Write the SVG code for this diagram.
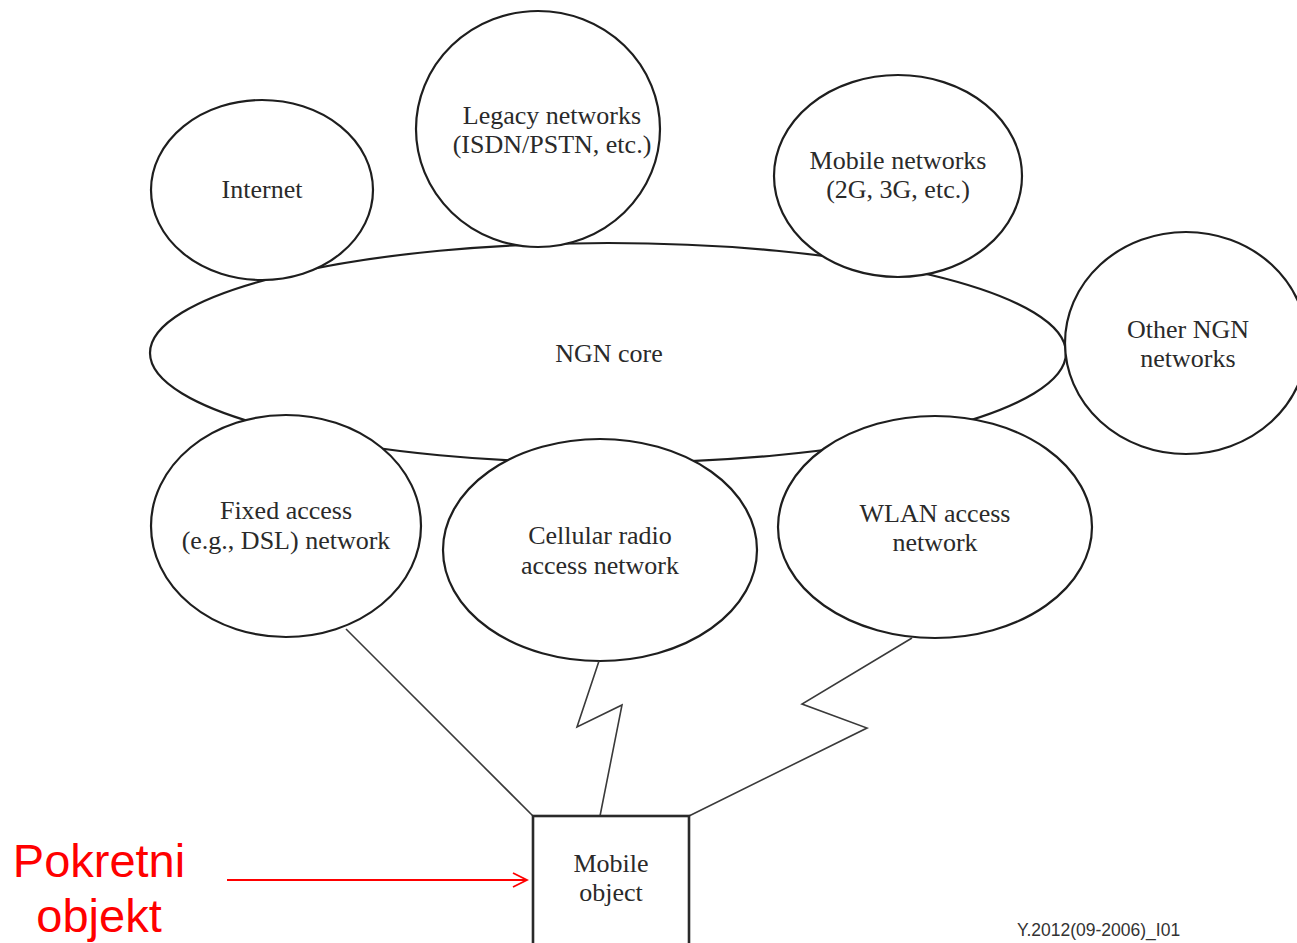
<svg xmlns="http://www.w3.org/2000/svg" width="1297" height="943" viewBox="0 0 1297 943">
  <style>
    .net { fill: #ffffff; stroke: #1e1e1e; stroke-width: 2.2; }
    .lbl { font-family: "Liberation Serif", "Times New Roman", serif; font-size: 26px; fill: #2a2a2a; text-anchor: middle; }
    .link { fill: none; stroke: #3a3a3a; stroke-width: 1.6; stroke-linejoin: miter; }
    .note { font-family: "Liberation Sans", Arial, sans-serif; font-size: 47px; fill: #ff0000; text-anchor: middle; }
    .ref { font-family: "Liberation Sans", Arial, sans-serif; font-size: 17.5px; fill: #333333; }
  </style>
  <defs>
    <marker id="openArrow" markerWidth="18" markerHeight="16" refX="16" refY="8" orient="auto" markerUnits="userSpaceOnUse">
      <path d="M2,1 L16,8 L2,15" fill="none" stroke="#ff0000" stroke-width="1.8"/>
    </marker>
  </defs>
  <rect width="1297" height="943" fill="#ffffff"/>

  <!-- core ring sits underneath the surrounding networks -->
  <g id="ngn-core">
    <ellipse class="net" cx="608" cy="353" rx="458" ry="110"/>
    <text class="lbl" x="609" y="362">NGN core</text>
  </g>

  <g id="internet">
    <ellipse class="net" cx="262" cy="190" rx="111" ry="90"/>
    <text class="lbl" x="262" y="198">Internet</text>
  </g>

  <g id="legacy-networks">
    <ellipse class="net" cx="538" cy="129" rx="122" ry="118"/>
    <text class="lbl" x="552" y="124">Legacy networks</text>
    <text class="lbl" x="552" y="153">(ISDN/PSTN, etc.)</text>
  </g>

  <g id="mobile-networks">
    <ellipse class="net" cx="898" cy="176" rx="124" ry="101"/>
    <text class="lbl" x="898" y="169">Mobile networks</text>
    <text class="lbl" x="898" y="198">(2G, 3G, etc.)</text>
  </g>

  <g id="other-ngn">
    <ellipse class="net" cx="1186" cy="343" rx="121" ry="111"/>
    <text class="lbl" x="1188" y="338">Other NGN</text>
    <text class="lbl" x="1188" y="367">networks</text>
  </g>

  <g id="fixed-access">
    <ellipse class="net" cx="286" cy="526" rx="135" ry="111"/>
    <text class="lbl" x="286" y="519">Fixed access</text>
    <text class="lbl" x="286" y="549">(e.g., DSL) network</text>
  </g>

  <g id="cellular-access">
    <ellipse class="net" cx="600" cy="550" rx="157" ry="111"/>
    <text class="lbl" x="600" y="544">Cellular radio</text>
    <text class="lbl" x="600" y="574">access network</text>
  </g>

  <g id="wlan-access">
    <ellipse class="net" cx="935" cy="527" rx="157" ry="111"/>
    <text class="lbl" x="935" y="522">WLAN access</text>
    <text class="lbl" x="935" y="551">network</text>
  </g>

  <!-- wired and radio links down to the terminal -->
  <g id="connectors">
    <path class="link" d="M346,629 L533,816"/>
    <path class="link" d="M599,661 L577,727 L622,705 L600,816"/>
    <path class="link" d="M912,638 L802,704 L867,728 L689,816"/>
    <path d="M227,880 L527,880" fill="none" stroke="#ff0000" stroke-width="2" marker-end="url(#openArrow)"/>
  </g>

  <g id="mobile-object">
    <rect x="533" y="816" width="156" height="140" fill="#ffffff" stroke="#2a2a2a" stroke-width="2.6"/>
    <text class="lbl" x="611" y="872">Mobile</text>
    <text class="lbl" x="611" y="901">object</text>
  </g>

  <g id="caption">
    <text class="note" x="99" y="877">Pokretni</text>
    <text class="note" x="99" y="932">objekt</text>
  </g>

  <text class="ref" x="1017" y="936">Y.2012(09-2006)_I01</text>
</svg>
